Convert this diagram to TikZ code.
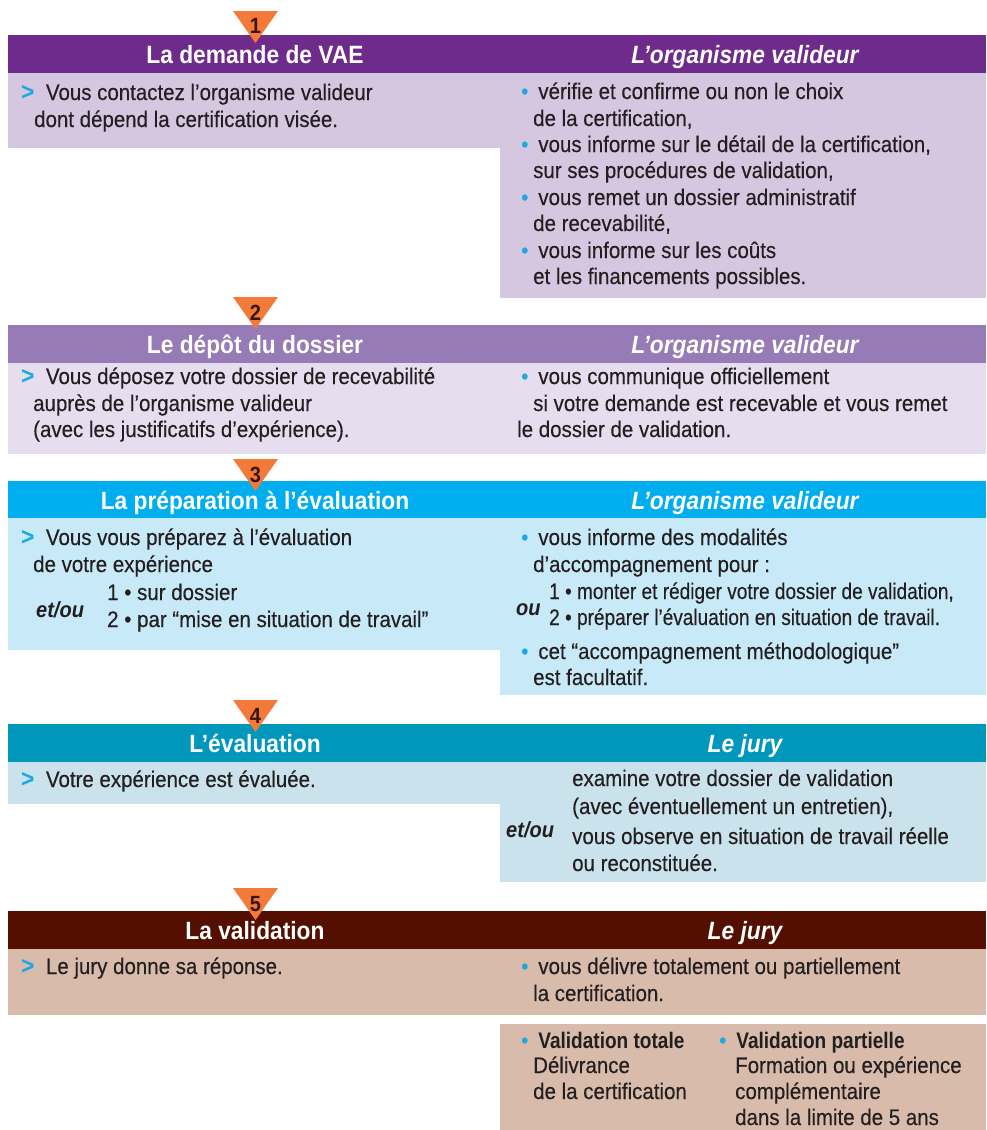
\documentclass[tikz,border=0pt]{standalone}
\usepackage{fontspec}
\setmainfont{Liberation Sans}[FakeStretch=0.91, UprightFeatures={FakeBold=0.3}]
\definecolor{hA}{HTML}{6E2B8B}\definecolor{bA}{HTML}{D6C7E1}
\definecolor{hB}{HTML}{967BB6}\definecolor{bB}{HTML}{E6DEEE}
\definecolor{hC}{HTML}{00AEEF}\definecolor{bC}{HTML}{C7E9F8}
\definecolor{hD}{HTML}{0097BD}\definecolor{bD}{HTML}{CAE2EB}
\definecolor{hE}{HTML}{540F00}\definecolor{bE}{HTML}{D8BBAA}
\definecolor{tri}{HTML}{F37A38}
\definecolor{num}{HTML}{3A1608}
\definecolor{bul}{HTML}{1BA9E1}
\definecolor{txc}{HTML}{231F20}
\newcommand{\cgt}{{\color{bul}\fontsize{25}{27}\selectfont\bfseries >}\hspace{11.5pt}}
\newcommand{\cbul}{{\color{bul}•}\hspace{10pt}}
\newcommand{\cbold}[1]{\scalebox{0.93}[1]{\bfseries #1}}
\tikzset{
  tx/.style={anchor=base west, inner sep=0pt, text=txc, font=\fontsize{22.5}{27}\selectfont},
  bi/.style={tx, font=\fontsize{22}{27}\selectfont\bfseries\itshape},
  hdl/.style={anchor=base, inner sep=0pt, text=white, font=\fontsize{25}{30}\selectfont\bfseries},
  hdr/.style={anchor=base, inner sep=0pt, text=white, font=\fontsize{25}{30}\selectfont\bfseries\itshape},
  numb/.style={anchor=base, inner sep=0pt, text=num, font=\fontsize{22}{24}\selectfont\bfseries},
  trif/.style={fill=tri}
}
\begin{document}
\begin{tikzpicture}[x=1pt,y=-1pt]
\useasboundingbox (0,0) rectangle (986,1130);
% ---------- band 1
\fill[bA] (8,73) rectangle (500,148);
\fill[bA] (500,73) rectangle (986,298);
\fill[hA] (8,35) rectangle (986,73);
\node[hdl] (h1l) at (255,63) {La demande de VAE};
\node[hdr] (h1r) at (745,63) {L’organisme valideur};
\fill[trif] (233,11) -- (278,11) -- (255.5,43) -- cycle;
\node[numb] (n1) at (255.5,33) {1};
\node[tx] (a1) at (21,100) {\cgt Vous contactez l’organisme valideur};
\node[tx] (a2) at (34,127) {dont dépend la certification visée.};
\node[tx] (b1) at (521,99) {\cbul vérifie et confirme ou non le choix};
\node[tx] (b2) at (533,126) {de la certification,};
\node[tx] (b3) at (521,152) {\cbul vous informe sur le détail de la certification,};
\node[tx] (b4) at (533,178) {sur ses procédures de validation,};
\node[tx] (b5) at (521,205) {\cbul vous remet un dossier administratif};
\node[tx] (b6) at (533,231) {de recevabilité,};
\node[tx] (b7) at (521,258) {\cbul vous informe sur les coûts};
\node[tx] (b8) at (533,284) {et les financements possibles.};
% ---------- band 2
\fill[bB] (8,363) rectangle (986,454);
\fill[hB] (8,325) rectangle (986,363);
\node[hdl] (h2l) at (255,353) {Le dépôt du dossier};
\node[hdr] (h2r) at (745,353) {L’organisme valideur};
\fill[trif] (233,297) -- (278,297) -- (255.5,329) -- cycle;
\node[numb] (n2) at (255.5,320) {2};
\node[tx] (c1) at (21,384) {\cgt Vous déposez votre dossier de recevabilité};
\node[tx] (c2) at (33,411) {auprès de l’organisme valideur};
\node[tx] (c3) at (33,437) {(avec les justificatifs d’expérience).};
\node[tx] (d1) at (521,384) {\cbul vous communique officiellement};
\node[tx] (d2) at (533,411) {si votre demande est recevable et vous remet};
\node[tx] (d3) at (517,437) {le dossier de validation.};
% ---------- band 3
\fill[bC] (8,518) rectangle (500,650);
\fill[bC] (500,518) rectangle (986,695);
\fill[hC] (8,481) rectangle (986,518);
\node[hdl] (h3l) at (255,509) {La préparation à l’évaluation};
\node[hdr] (h3r) at (745,509) {L’organisme valideur};
\fill[trif] (233,459) -- (278,459) -- (255.5,491) -- cycle;
\node[numb] (n3) at (255.5,482) {3};
\node[tx] (e1) at (21,545) {\cgt Vous vous préparez à l’évaluation};
\node[tx] (e2) at (33,572) {de votre expérience};
\node[tx] (e3) at (107,600) {1 • sur dossier};
\node[bi] (e4) at (36,617) {et/ou};
\node[tx] (e5) at (107,627) {2 • par “mise en situation de travail”};
\node[tx] (f1) at (521,545) {\cbul vous informe des modalités};
\node[tx] (f2) at (533,572) {d’accompagnement pour :};
\node[tx] (f3) at (549,599) {\scalebox{0.93}[1]{1 • monter et rédiger votre dossier de validation,}};
\node[bi] (f4) at (516,615) {ou};
\node[tx] (f5) at (549,625) {\scalebox{0.93}[1]{2 • préparer l’évaluation en situation de travail.}};
\node[tx] (f6) at (521,659) {\cbul cet “accompagnement méthodologique”};
\node[tx] (f7) at (533,685) {est facultatif.};
% ---------- band 4
\fill[bD] (8,762) rectangle (500,804);
\fill[bD] (500,762) rectangle (986,882);
\fill[hD] (8,724) rectangle (986,762);
\node[hdl] (h4l) at (255,752) {L’évaluation};
\node[hdr] (h4r) at (745,752) {Le jury};
\fill[trif] (233,700) -- (278,700) -- (255.5,732) -- cycle;
\node[numb] (n4) at (255.5,723) {4};
\node[tx] (g1) at (21,787) {\cgt Votre expérience est évaluée.};
\node[tx] (k1) at (572,786) {examine votre dossier de validation};
\node[tx] (k2) at (572,814) {(avec éventuellement un entretien),};
\node[bi] (k5) at (506,837) {et/ou};
\node[tx] (k3) at (572,844) {vous observe en situation de travail réelle};
\node[tx] (k4) at (572,871) {ou reconstituée.};
% ---------- band 5
\fill[bE] (8,949) rectangle (986,1015);
\fill[bE] (500,1024) rectangle (986,1130);
\fill[hE] (8,911) rectangle (986,949);
\node[hdl] (h5l) at (255,939) {La validation};
\node[hdr] (h5r) at (745,939) {Le jury};
\fill[trif] (233,888) -- (278,888) -- (255.5,920) -- cycle;
\node[numb] (n5) at (255.5,911) {5};
\node[tx] (m1) at (21,974) {\cgt Le jury donne sa réponse.};
\node[tx] (p1) at (521,974) {\cbul vous délivre totalement ou partiellement};
\node[tx] (p2) at (533,1001) {la certification.};
\node[tx] (q1) at (521,1048) {\cbul\cbold{Validation totale}};
\node[tx] (q2) at (533,1073) {Délivrance};
\node[tx] (q3) at (533,1099) {de la certification};
\node[tx] (r1) at (719,1048) {\cbul\cbold{Validation partielle}};
\node[tx] (r2) at (735,1073) {Formation ou expérience};
\node[tx] (r3) at (735,1099) {complémentaire};
\node[tx] (r4) at (735,1125) {dans la limite de 5 ans};
\end{tikzpicture}
\end{document}
